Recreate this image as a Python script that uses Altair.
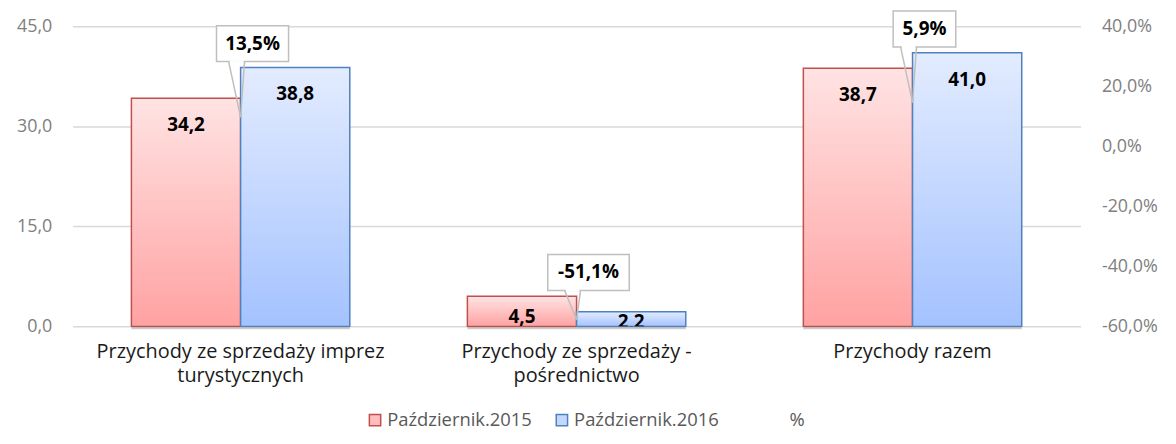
import altair as alt
import pandas as pd

FONT = "Open Sans"

categories = [
    "Przychody ze sprzedaży imprez turystycznych",
    "Przychody ze sprzedaży - pośrednictwo",
    "Przychody razem",
]
cat_lines = [
    ["Przychody ze sprzedaży imprez", "turystycznych"],
    ["Przychody ze sprzedaży -", "pośrednictwo"],
    ["Przychody razem"],
]
series = ["Październik.2015", "Październik.2016"]
v2015 = [34.2, 4.5, 38.7]
v2016 = [38.8, 2.2, 41.0]
pct = [13.5, -51.1, 5.9]
left_ticks = [0, 15, 30, 45]
right_ticks = [-60, -40, -20, 0, 20, 40]


def pl(v):
    return f"{v:.1f}".replace(".", ",")


rows = []
for c, a, b in zip(categories, v2015, v2016):
    rows.append({"cat": c, "series": series[0], "value": a})
    rows.append({"cat": c, "series": series[1], "value": b})
bars_df = pd.DataFrame(rows)
bars_df["label"] = bars_df["value"].map(pl)

call_df = pd.DataFrame({
    "cat": categories,
    "pct": pct,
    "top": [max(a, b) for a, b in zip(v2015, v2016)],
})
call_df["label"] = call_df["pct"].map(lambda v: pl(v) + "%")
call_df["w"] = call_df["label"].map(lambda s: 9.5 * len(s) + 25)

legend_df = pd.DataFrame({"cat": categories[0], "series": series + ["%"], "value": 0})

# label expression for multi-line category labels
expr = "''"
for c, lines in reversed(list(zip(categories, cat_lines))):
    arr = "[" + ",".join("'" + l + "'" for l in lines) + "]"
    expr = f"datum.value == '{c}' ? {arr} : ({expr})"

x_enc = alt.X(
    "cat:N",
    sort=categories,
    scale=alt.Scale(domain=categories, paddingInner=0.35, paddingOuter=0.175),
    axis=alt.Axis(
        title=None, labelExpr=expr, labelAngle=0, domain=False, ticks=False,
        labelFontSize=20, labelColor="#1a1a1a", labelPadding=15,
        labelLineHeight=24, labelFont=FONT, labelBaseline="top", labelLimit=500,
    ),
)
xoff = alt.XOffset("series:N", sort=series,
                   scale=alt.Scale(domain=series, paddingInner=0, paddingOuter=0))

y_axis = alt.Axis(
    title=None, values=left_ticks,
    labelExpr="replace(format(datum.value,'.1f'),'.',',')",
    domain=False, ticks=False, gridColor="#D9D9D9", gridWidth=1.5,
    labelColor="#808080", labelFontSize=18, labelPadding=21, labelFont=FONT,
)
y_scale = alt.Scale(domain=[0, 45], nice=False)


def Y(field):
    return alt.Y(field, scale=y_scale, axis=y_axis, title=None)


red_grad = {"gradient": "linear", "x1": 0, "y1": 0, "x2": 0, "y2": 1,
            "stops": [{"offset": 0, "color": "#FFE3E3"}, {"offset": 1, "color": "#FFA2A2"}]}
blue_grad = {"gradient": "linear", "x1": 0, "y1": 0, "x2": 0, "y2": 1,
             "stops": [{"offset": 0, "color": "#E3ECFF"}, {"offset": 1, "color": "#A4C2FF"}]}
is2015 = alt.datum.series == series[0]

base = alt.Chart(bars_df)

shadow = base.mark_bar(color="#000000", opacity=0.2, yOffset=3).encode(
    x=x_enc, xOffset=xoff, y=Y("value:Q"))

bars = base.mark_bar(strokeWidth=1.5).encode(
    x=x_enc, xOffset=xoff, y=Y("value:Q"),
    fill=alt.condition(is2015, alt.value(red_grad), alt.value(blue_grad)),
    stroke=alt.condition(is2015, alt.value("#C0504D"), alt.value("#4F81BD")),
)

vlabels = base.transform_calculate(
    lab_y="datum.value - min(4.0, datum.value * 0.7)"
).mark_text(fontWeight="bold", fontSize=19, font=FONT, color="#000000",
            baseline="middle", clip=True).encode(
    x=x_enc, xOffset=xoff, y=Y("lab_y:Q"), text="label:N")

cbase = alt.Chart(call_df).transform_calculate(tip="max(datum.top - 7.45, 1.0)")

box = cbase.mark_bar(fill="white", stroke="#BFBFBF", strokeWidth=1.5,
                     yOffset=-42, y2Offset=-6, xOffset=12).encode(
    x=x_enc, y=Y("top:Q"), y2="top:Q", size=alt.Size("w:Q", scale=None))

gap = cbase.mark_rule(color="white", strokeWidth=2.5, xOffset=-11, x2Offset=3,
                      yOffset=-6, y2Offset=-6).encode(
    x=x_enc, x2="cat:N", y=Y("top:Q"), y2="top:Q")

wedge1 = cbase.mark_rule(color="#BFBFBF", strokeWidth=1.5, xOffset=-12, x2Offset=0,
                         yOffset=-6).encode(
    x=x_enc, x2="cat:N", y=Y("top:Q"), y2="tip:Q")
wedge2 = cbase.mark_rule(color="#BFBFBF", strokeWidth=1.5, xOffset=4, x2Offset=0,
                         yOffset=-6).encode(
    x=x_enc, x2="cat:N", y=Y("top:Q"), y2="tip:Q")

ctext = cbase.mark_text(fontWeight="bold", fontSize=19, font=FONT, color="#000000",
                        baseline="middle", dx=12, dy=-24).encode(
    x=x_enc, y=Y("top:Q"), text="label:N")

pad_pct = "\u200b" + "\u00a0" * 6 + "%"
leg = dict(title=None, orient="none", legendX=295, legendY=387,
           direction="horizontal", symbolType="square", symbolSize=130,
           symbolStrokeWidth=1.5, symbolOpacity=1, labelFontSize=18.5,
           labelColor="#595959", labelFont=FONT, columnPadding=20,
           labelOffset=3,
           labelExpr=f"datum.label == '%' ? '{pad_pct}' : datum.label")

legend_layer = alt.Chart(legend_df).mark_square(size=0).encode(
    x=x_enc, y=Y("value:Q"),
    fill=alt.Fill("series:N", sort=series + ["%"],
                  scale=alt.Scale(domain=series + ["%"],
                                  range=["#FFBDBD", "#C4D7FF", "transparent"]),
                  legend=alt.Legend(**leg)),
    stroke=alt.Stroke("series:N", sort=series + ["%"],
                      scale=alt.Scale(domain=series + ["%"],
                                      range=["#C0504D", "#4F81BD", "transparent"]),
                      legend=alt.Legend(**leg)),
)

left = alt.layer(shadow, bars, vlabels, box, gap, wedge1, wedge2, ctext, legend_layer)

right = alt.Chart(call_df).mark_point(opacity=0).encode(
    x=x_enc,
    y=alt.Y("pct:Q", scale=alt.Scale(domain=[-60, 40], nice=False),
            axis=alt.Axis(orient="right", title=None, values=right_ticks,
                          labelExpr="replace(replace(format(datum.value,'.1f'),'.',','),'\u2212','-') + '%'",
                          grid=False, domain=False, ticks=False, labelColor="#808080",
                          labelFontSize=18, labelPadding=21, labelFont=FONT)),
)

chart = alt.layer(left, right).resolve_scale(y="independent").properties(
    width=1014, height=302,
    autosize=alt.AutoSizeParams(type="none"),
    padding={"left": 65, "top": 17, "right": 88, "bottom": 110},
).configure_view(stroke=None)

chart.save("out.html", embed_options={"renderer": "svg", "actions": False})
